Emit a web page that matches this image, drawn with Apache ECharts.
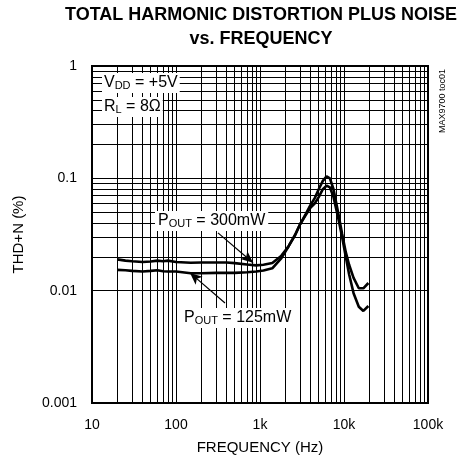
<!DOCTYPE html>
<html><head><meta charset="utf-8">
<script src="https://cdn.jsdelivr.net/npm/echarts@6/dist/echarts.min.js"></script>
<style>html,body{margin:0;padding:0;background:#fff}#c{width:458px;height:466px}</style>
</head><body><div id="c"></div>
<script>
// Frequencies (Hz) and THD+N (%) values
const freq300 = [20,25,30,40,50,60,70,80,100,150,200,300,400,500,700,900,1100,1400,1800,2200,2600,3000,3500,4000,4500,5000,5600,6200,6800,7500,8500,9500,10500,11500,13000,15000,17000,19500];
const thd300  = [0.019,0.0185,0.0183,0.018,0.0182,0.0185,0.0183,0.0185,0.018,0.0177,0.0178,0.0178,0.0178,0.0176,0.0171,0.0168,0.017,0.0176,0.0205,0.025,0.031,0.039,0.048,0.058,0.067,0.08,0.095,0.104,0.1,0.08,0.05,0.032,0.022,0.017,0.013,0.0105,0.0105,0.0117];
const freq125 = [20,25,30,40,50,60,70,80,100,150,200,300,400,500,700,900,1100,1400,1800,2200,2600,3000,3500,4000,4500,5000,5600,6200,6800,7500,8500,9500,10500,11500,13000,15000,17000,19500];
const thd125  = [0.0153,0.0152,0.015,0.0148,0.015,0.0152,0.0149,0.0148,0.0148,0.0143,0.0143,0.0144,0.0144,0.0144,0.0146,0.0148,0.0151,0.0158,0.0195,0.025,0.031,0.039,0.047,0.055,0.06,0.068,0.08,0.086,0.083,0.068,0.045,0.03,0.02,0.014,0.0095,0.0072,0.0066,0.0073];
const xTickLabels = {10:'10',100:'100',1000:'1k',10000:'10k',100000:'100k'};
const yTickLabels = ['0.001','0.01','0.1','1'];
// annotation arrows [tail, tip] in data coordinates
const arrow300 = [[316,0.0327],[826,0.0177]];
const arrow125 = [[383,0.00776],[147,0.01439]];

const xGrid = [], yGrid = [];
[10,100,1000,10000].forEach(d=>{for(let m=1;m<=9;m++){ if(!(d===10&&m===1)) xGrid.push(d*m);} });
[0.001,0.01,0.1].forEach(d=>{for(let m=1;m<=9;m++){ if(!(d===0.001&&m===1)) yGrid.push(+(d*m).toPrecision(3));} });

const FONT = "'Liberation Sans', Arial, sans-serif";
const SUB = {fontSize:11,fontFamily:FONT,verticalAlign:'bottom',lineHeight:8};
const chart = echarts.init(document.getElementById('c'));
const pair = (xs, ys) => xs.map((x,i)=>[x, ys[i]]);
chart.setOption({
  animation:false,
  backgroundColor:'#fff',
  grid:{left:92,right:30,top:66,bottom:63,show:true,borderColor:'#000',borderWidth:2,backgroundColor:'transparent'},
  xAxis:{type:'log',logBase:10,min:10,max:100000,
    name:'FREQUENCY (Hz)',nameLocation:'middle',nameGap:37,
    nameTextStyle:{fontFamily:FONT,fontSize:15,color:'#000'},
    axisLine:{show:false},axisTick:{show:false},splitLine:{show:false},
    axisLabel:{margin:15,fontFamily:FONT,fontSize:14,color:'#000',
      formatter:v=>{const k=Math.round(v); return xTickLabels[k]!==undefined?xTickLabels[k]:'';}}},
  yAxis:{type:'log',logBase:10,min:0.001,max:1,
    name:'THD+N (%)',nameLocation:'middle',nameGap:66,
    nameTextStyle:{fontFamily:FONT,fontSize:15,color:'#000'},
    axisLine:{show:false},axisTick:{show:false},splitLine:{show:false},
    axisLabel:{margin:15,fontFamily:FONT,fontSize:14,color:'#000',
      formatter:v=>{const e=Math.round(Math.log10(v))+3; return yTickLabels[e]||'';}}},
  series:[
    {type:'line',data:[],z:1,silent:true,
      markLine:{silent:true,symbol:'none',animation:false,label:{show:false},
        lineStyle:{color:'#000',width:1,type:'solid'},
        data:xGrid.map(v=>({xAxis:v})).concat(yGrid.map(v=>({yAxis:v})))}},
    {name:'300mW',type:'line',data:pair(freq300,thd300),showSymbol:false,z:5,
      lineStyle:{color:'#000',width:2.6},
      markLine:{silent:true,symbol:['none','arrow'],symbolSize:[8,12],label:{show:false},
        lineStyle:{color:'#000',width:1.2,type:'solid'},
        data:[[{coord:arrow300[0]},{coord:arrow300[1]}]]}},
    {name:'125mW',type:'line',data:pair(freq125,thd125),showSymbol:false,z:5,
      lineStyle:{color:'#000',width:2.6},
      markLine:{silent:true,symbol:['none','arrow'],symbolSize:[8,12],label:{show:false},
        lineStyle:{color:'#000',width:1.2,type:'solid'},
        data:[[{coord:arrow125[0]},{coord:arrow125[1]}]]}}
  ],
  graphic:[
    {type:'text',z:10,x:261,y:15,style:{text:'TOTAL HARMONIC DISTORTION PLUS NOISE',font:"bold 18px "+FONT,fill:'#000',align:'center',verticalAlign:'middle'}},
    {type:'text',z:10,x:261,y:39,style:{text:'vs. FREQUENCY',font:"bold 18px "+FONT,fill:'#000',align:'center',verticalAlign:'middle'}},
    {type:'text',z:10,x:102,y:73,style:{text:'V{s|DD} = +5V',font:"16px "+FONT,fill:'#000',backgroundColor:'#fff',padding:[2,2,2,2],rich:{s:SUB}}},
    {type:'text',z:10,x:102,y:97,style:{text:'R{s|L} = 8Ω',font:"16px "+FONT,fill:'#000',backgroundColor:'#fff',padding:[2,2,2,2],rich:{s:SUB}}},
    {type:'text',z:10,x:155,y:211,style:{text:'P{s|OUT} = 300mW',font:"16px "+FONT,fill:'#000',backgroundColor:'#fff',padding:[2,3,2,3],rich:{s:SUB}}},
    {type:'text',z:10,x:181,y:308,style:{text:'P{s|OUT} = 125mW',font:"16px "+FONT,fill:'#000',backgroundColor:'#fff',padding:[2,3,2,3],rich:{s:SUB}}},
    {type:'text',z:10,x:443,y:101,rotation:Math.PI/2,style:{text:'MAX9700 toc01',font:"9px "+FONT,fill:'#000',align:'center',verticalAlign:'middle'}}
  ]
});
</script></body></html>
